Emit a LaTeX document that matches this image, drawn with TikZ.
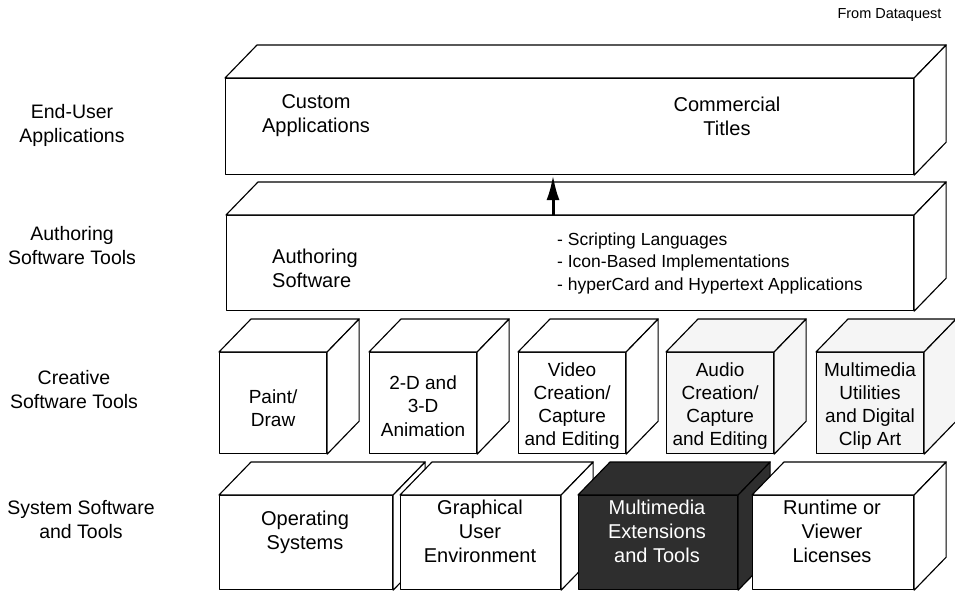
\documentclass[tikz,border=0pt]{standalone}
\usepackage{fontspec}
\setmainfont{Liberation Sans}
\usetikzlibrary{calc,arrows.meta}
\newcommand\extrudebox[2][]{%
  \filldraw[face,#1] (#2.north west) -- ++(32,-33) -- ($(#2.north east)+(32,-33)$) -- (#2.north east) -- cycle;
  \filldraw[face,#1] (#2.north east) -- ++(32,-33) -- ($(#2.south east)+(32,-33)$) -- (#2.south east) -- cycle;}
\begin{document}
\begin{tikzpicture}[x=1pt,y=-1pt,
  face/.style={draw=black,line width=1.15pt,line join=round,fill=white},
  front/.style={face,rectangle,anchor=north west,inner sep=0pt},
  cube/.style={front,minimum width=107pt,minimum height=101pt},
  sysbox/.style={front,minimum height=94pt},
  txt/.style={align=center,inner sep=0pt,font=\fontsize{20}{24}\selectfont},
  cubetxt/.style={align=center,inner sep=0pt,font=\fontsize{19}{23.3}\selectfont},
  lbl/.style={align=center,inner sep=0pt,font=\fontsize{19.5}{24}\selectfont},
  speck/.style={fill=black!4},
  dark/.style={fill=black!82},
  upArrow/.style={line width=3pt,-{Latex[length=25pt,width=13pt]}}
]
\useasboundingbox (0,0) rectangle (955,591);

% source note
\node[anchor=east,font=\fontsize{14.5}{16}\selectfont] (source) at (945,15) {From Dataquest};

% layer labels
\node[lbl] (lEnd)  at (72,125) {End-User\\Applications};
\node[lbl] (lAuth) at (72,246) {Authoring\\Software Tools};
\node[lbl] (lCre)  at (74,390) {Creative\\Software Tools};
\node[lbl] (lSys)  at (81,520) {System Software\\and Tools};

% end-user applications
\node[front,minimum width=688pt,minimum height=96pt] (enduser) at (225,78) {};
\extrudebox{enduser}
\node[txt] (custom) at (316,116) {Custom\\Applications};
\node[txt] (commercial) at (727,116) {Commercial\\Titles};

% authoring software
\node[front,minimum width=687pt,minimum height=95pt] (authoring) at (226,215) {};
\extrudebox{authoring}
\node[txt,anchor=west,align=left] (authsw) at (272,268) {Authoring\\Software};
\node[txt,anchor=west,align=left,font=\fontsize{17.5}{22.5}\selectfont] (list) at (557,263)
  {- Scripting Languages\\- Icon-Based Implementations\\- hyperCard and Hypertext Applications};

% arrow
\coordinate (arrowfoot) at (553,215);
\draw[upArrow] (arrowfoot) -- (arrowfoot |- enduser.south);

% creative tools
\node[cube] (paint) at (219,352) {};
\extrudebox{paint}
\node[cubetxt] (paintT) at ($(paint.center)+(0,5)$) {Paint/\\Draw};
\node[cube] (anim) at (369,352) {};
\extrudebox{anim}
\node[cubetxt] (animT) at ($(anim.center)+(0,3)$) {2-D and\\3-D\\Animation};
\node[cube] (video) at (518,352) {};
\extrudebox{video}
\node[cubetxt] (videoT) at ($(video.center)+(0,3)$) {Video\\Creation/\\Capture\\and Editing};
\node[cube,speck] (audio) at (666,352) {};
\extrudebox[speck]{audio}
\node[cubetxt] (audioT) at ($(audio.center)+(0,3)$) {Audio\\Creation/\\Capture\\and Editing};
\node[cube,speck] (util) at (816,352) {};
\extrudebox[speck]{util}
\node[cubetxt] (utilT) at ($(util.center)+(0,3)$) {Multimedia\\Utilities\\and Digital\\Clip Art};

% system software
\node[sysbox,minimum width=173pt] (os) at (219,495) {};
\extrudebox{os}
\node[txt] (osT) at (305,532) {Operating\\Systems};
\node[sysbox,minimum width=160pt] (gui) at (400,495) {};
\extrudebox{gui}
\node[txt] (guiT) at (480,531) {Graphical\\User\\Environment};
\node[sysbox,dark,minimum width=159pt] (mmext) at (578,495) {};
\extrudebox[dark]{mmext}
\node[txt,text=white] (mmextT) at (657,531) {Multimedia\\Extensions\\and Tools};
\node[sysbox,minimum width=161pt] (runtime) at (752,495) {};
\extrudebox{runtime}
\node[txt] (runtimeT) at (832,531) {Runtime or\\Viewer\\Licenses};
\end{tikzpicture}
\end{document}
